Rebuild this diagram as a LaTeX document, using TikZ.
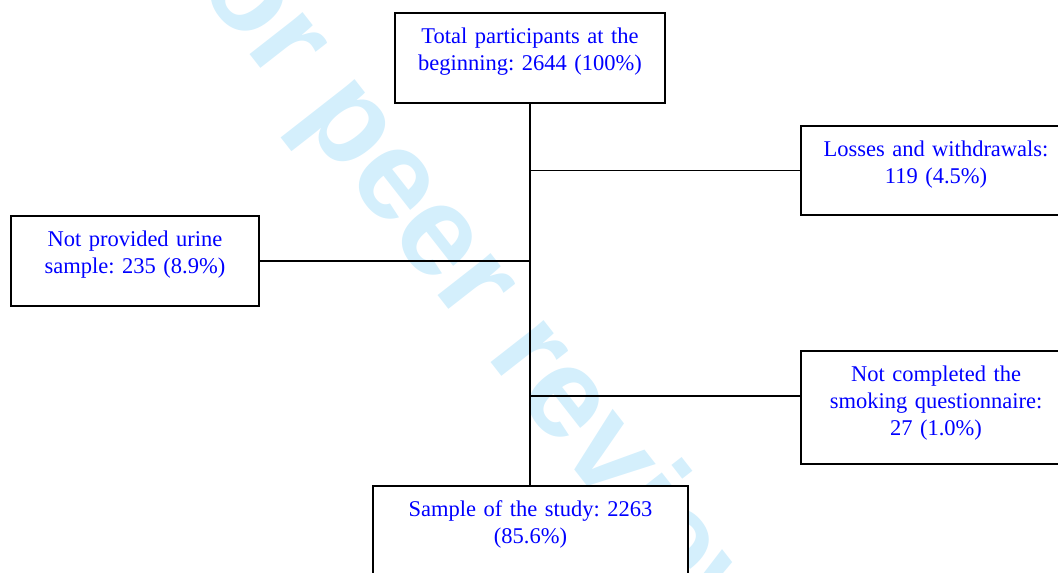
\documentclass[tikz,border=0pt]{standalone}
\usepackage{fontspec}
\setmainfont{Liberation Serif}
\newfontfamily\wmfont{Liberation Sans}
\usetikzlibrary{positioning}
\frenchspacing

\definecolor{wmblue}{RGB}{212,239,252}

\begin{document}
\begin{tikzpicture}[x=1pt, y=-1pt,
  box/.style={draw=black, line width=1.8pt, fill=white, text=blue, align=center,
    inner xsep=0pt, inner ysep=0pt, text height=31pt,
    font=\fontsize{22.5}{27}\selectfont, anchor=north},
  link/.style={draw=black, line width=1.8pt},
  wmark/.style={text=wmblue, inner sep=0pt, anchor=base west, rotate=-52,
    font=\wmfont\bfseries\fontsize{128}{128}\selectfont}
]
\useasboundingbox (0,0) rectangle (1058,573);
\clip (0,0) rectangle (1058,573);

\node[wmark] (wm) at (148,-76) {For peer review};

\node[box, text width=270pt, text depth=59pt] (total) at (530,12) {Total participants at the\\beginning: 2644 (100\%)};
\node[box, text width=270pt, text depth=58pt] (loss) at (936,125) {Losses and withdrawals:\\119 (4.5\%)};
\node[box, text width=248pt, text depth=59pt] (urine) at (135,215) {Not provided urine\\sample: 235 (8.9\%)};
\node[box, text width=270pt, text depth=82pt] (quest) at (936,350) {Not completed the\\smoking questionnaire:\\27 (1.0\%)};
\node[box, text width=315pt, text depth=69pt] (sample) at (530.5,485) {Sample of the study: 2263\\(85.6\%)};

\coordinate (qjoin) at ([yshift=11.5pt]quest.west);
\draw[link] (total.south) -- (total.south |- sample.north);
\draw[link] (total.south |- loss.west) -- (loss.west);
\draw[link] (total.south |- urine.east) -- (urine.east);
\draw[link] (total.south |- qjoin) -- (qjoin);

\end{tikzpicture}
\end{document}
